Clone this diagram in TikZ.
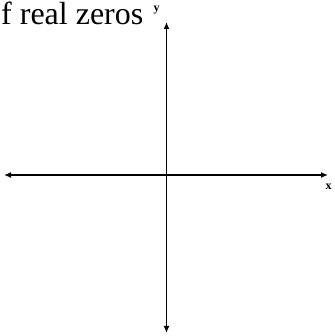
\documentclass[tikz,border=0pt]{standalone}
\usepackage{fontspec}
\setmainfont{Liberation Serif}
\usetikzlibrary{arrows.meta}
\begin{document}
\begin{tikzpicture}[x=1pt,y=1pt,
  axis/.style={line width=1.8pt,-{Latex[length=7pt,width=6pt]}},
  lbl/.style={inner sep=0pt,font=\fontsize{12}{13}\selectfont\bfseries}]
\useasboundingbox (0,0) rectangle (334,336);
\coordinate (o) at (166.5,161);
\coordinate (top) at (166.5,314);
\coordinate (bot) at (166.5,3);
\coordinate (left) at (4,161);
\coordinate (right) at (328,161);
\draw[axis] (o) -- (top);
\draw[axis] (o) -- (bot);
\draw[axis] (o) -- (left);
\draw[axis] (o) -- (right);
\node[lbl] (ylab) at (156.5,326) {y};
\node[lbl] (xlab) at (328.5,149) {x};
\node[inner sep=0pt,anchor=base west,font=\fontsize{32}{34}\selectfont] (title) at (1,311) {f real zeros};
\end{tikzpicture}
\end{document}
